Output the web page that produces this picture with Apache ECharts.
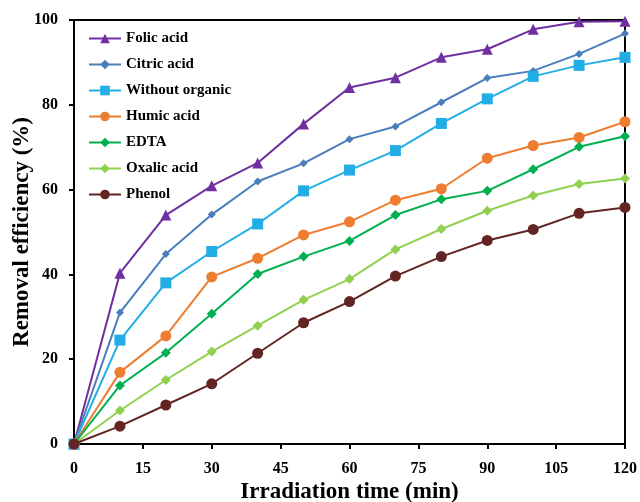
<!DOCTYPE html>
<html>
<head>
<meta charset="utf-8">
<script src="https://cdn.jsdelivr.net/npm/echarts@6/dist/echarts.min.js"></script>
<style>
  html, body { margin: 0; padding: 0; background: #fff; }
  #chart { width: 640px; height: 502px; }
</style>
</head>
<body>
<div id="chart"></div>
<script>
// Irradiation time points (min)
const times = [0, 10, 20, 30, 40, 50, 60, 70, 80, 90, 100, 110, 120];

// Removal efficiency (%) for each additive
const folicAcid      = [0, 40.3, 54.0, 60.9, 66.3, 75.5, 84.1, 86.4, 91.2, 93.1, 97.8, 99.6, 99.7];
const citricAcid     = [0, 31.0, 44.8, 54.1, 61.9, 66.2, 71.9, 74.9, 80.6, 86.3, 88.0, 92.0, 96.8];
const withoutOrganic = [0, 24.5, 38.0, 45.4, 51.9, 59.7, 64.6, 69.2, 75.6, 81.4, 86.7, 89.3, 91.2];
const humicAcid      = [0, 16.9, 25.5, 39.4, 43.8, 49.3, 52.4, 57.5, 60.2, 67.4, 70.4, 72.3, 76.0];
const edta           = [0, 13.8, 21.5, 30.7, 40.1, 44.2, 47.9, 54.0, 57.7, 59.7, 64.8, 70.1, 72.6];
const oxalicAcid     = [0, 7.9, 15.1, 21.8, 27.9, 34.0, 38.9, 45.9, 50.7, 55.0, 58.6, 61.3, 62.6];
const phenol         = [0, 4.2, 9.2, 14.2, 21.4, 28.6, 33.6, 39.6, 44.2, 48.0, 50.6, 54.4, 55.8];

const seriesNames = ['Folic acid', 'Citric acid', 'Without organic', 'Humic acid', 'EDTA', 'Oxalic acid', 'Phenol'];
const seriesData = [folicAcid, citricAcid, withoutOrganic, humicAcid, edta, oxalicAcid, phenol];
const seriesColors = ['#7030A0', '#4A7EBB', '#22AEE5', '#ED7D31', '#00B050', '#92D050', '#632523'];
const seriesSymbols = ['triangle', 'diamond', 'rect', 'circle', 'diamond', 'diamond', 'circle'];
const symbolSizes = [11, 8, 11, 11, 10, 10, 11];

const xTicks = { min: 0, max: 120, interval: 15 };
const yTicks = { min: 0, max: 100, interval: 20 };

const serif = 'Liberation Serif';

const chart = echarts.init(document.getElementById('chart'), null, { renderer: 'canvas' });

const series = seriesNames.map((name, i) => ({
  name: name,
  type: 'line',
  data: times.map((t, j) => [t, seriesData[i][j]]),
  symbol: seriesSymbols[i],
  symbolSize: symbolSizes[i],
  showAllSymbol: true,
  color: seriesColors[i],
  lineStyle: { width: 2, color: seriesColors[i] },
  itemStyle: { color: seriesColors[i] },
  z: 2 + i,
  animation: false
}));

chart.setOption({
  backgroundColor: '#fff',
  animation: false,
  grid: {
    left: 74, right: 15, top: 20, bottom: 58,
    containLabel: false,
    outerBoundsMode: 'none',
    show: true, borderColor: '#000', borderWidth: 2, backgroundColor: 'transparent'
  },
  legend: {
    orient: 'vertical',
    left: 88, top: 31,
    padding: 0,
    itemWidth: 32, itemHeight: 12,
    itemGap: 11,
    data: seriesNames,
    textStyle: { fontFamily: serif, fontWeight: 'bold', fontSize: 15, color: '#000' }
  },
  xAxis: {
    type: 'value',
    min: xTicks.min, max: xTicks.max, interval: xTicks.interval,
    name: 'Irradiation time (min)',
    nameLocation: 'middle',
    nameGap: 37,
    nameMoveOverlap: false,
    nameTextStyle: { fontFamily: serif, fontWeight: 'bold', fontSize: 23, color: '#000' },
    axisLine: { show: true, onZero: false, lineStyle: { color: '#000', width: 2 } },
    axisTick: { show: true, inside: false, length: 5, lineStyle: { color: '#000', width: 2 } },
    axisLabel: { fontFamily: serif, fontWeight: 'bold', fontSize: 16, color: '#000', margin: 17 },
    splitLine: { show: false }
  },
  yAxis: {
    type: 'value',
    min: yTicks.min, max: yTicks.max, interval: yTicks.interval,
    name: 'Removal efficiency (%)',
    nameLocation: 'middle',
    nameGap: 40,
    nameMoveOverlap: false,
    nameTextStyle: { fontFamily: serif, fontWeight: 'bold', fontSize: 23, color: '#000' },
    axisLine: { show: true, onZero: false, lineStyle: { color: '#000', width: 2 } },
    axisTick: { show: true, inside: false, length: 5, lineStyle: { color: '#000', width: 2 } },
    axisLabel: { fontFamily: serif, fontWeight: 'bold', fontSize: 16, color: '#000', margin: 16 },
    splitLine: { show: false }
  },
  series: series
});
</script>
</body>
</html>
